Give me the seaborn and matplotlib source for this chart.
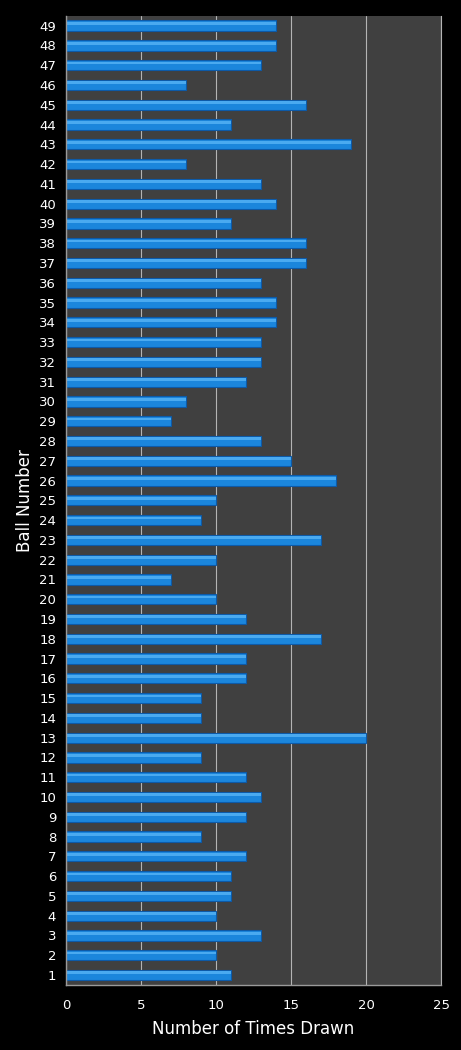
import matplotlib
matplotlib.use('Agg')
import matplotlib.pyplot as plt
import numpy as np
import pandas as pd
import seaborn as sns

# Ball numbers and how many times each was drawn
balls = list(range(1, 50))
times_drawn = [11, 10, 13, 10, 11, 11, 12, 9, 12, 13,
               12, 9, 20, 9, 9, 12, 12, 17, 12, 10,
               7, 10, 17, 9, 10, 18, 15, 13, 7, 8,
               12, 13, 13, 14, 14, 13, 16, 16, 11, 14,
               13, 8, 19, 11, 16, 8, 13, 14, 14]
x_ticks = [0, 5, 10, 15, 20, 25]

df = pd.DataFrame({'ball': balls, 'drawn': times_drawn})
order = list(reversed(balls))  # 49 at the top

sns.set_theme(style='dark')
plt.rcParams['font.family'] = ['DejaVu Sans']

fig = plt.figure(figsize=(4.61, 10.5), dpi=100, facecolor='black')
ax = fig.add_axes([0.143, 0.062, 0.814, 0.923])
ax.set_facecolor('#404040')

# Main bars
sns.barplot(data=df, x='drawn', y='ball', order=order, orient='h',
            color='#1b86dc', saturation=1, width=0.52,
            edgecolor='#0d5aa8', linewidth=0.8, ax=ax)
# Highlight strip to fake the glossy look
sns.barplot(data=df, x='drawn', y='ball', order=order, orient='h',
            color='#4aaaf0', saturation=1, width=0.14,
            linewidth=0, ax=ax)
# shift highlight upwards a little
for p in ax.patches[len(balls):]:
    p.set_y(p.get_y() - 0.11)

ax.set_xlim(0, 25)
ax.set_ylim(len(balls) - 0.5, -0.5)
ax.set_xticks(x_ticks)
ax.set_xticklabels([str(t) for t in x_ticks])
ax.xaxis.grid(True, color='#b4b4b4', linewidth=0.8)
ax.yaxis.grid(False)
ax.set_axisbelow(True)

ax.spines['top'].set_visible(False)
ax.spines['right'].set_visible(True)
ax.spines['right'].set_color('#b4b4b4')
ax.spines['right'].set_linewidth(0.8)
for side in ['left', 'bottom']:
    ax.spines[side].set_visible(True)
    ax.spines[side].set_color('#9a9a9a')
    ax.spines[side].set_linewidth(1.0)

ax.tick_params(axis='both', colors='white', labelsize=9.5, length=0)
ax.tick_params(axis='x', pad=10)
ax.tick_params(axis='y', pad=7)
ax.set_xlabel('Number of Times Drawn', color='white', fontsize=12, labelpad=6)
ax.set_ylabel('Ball Number', color='white', fontsize=12, labelpad=4)

fig.savefig('out.png', dpi=100, facecolor='black')
